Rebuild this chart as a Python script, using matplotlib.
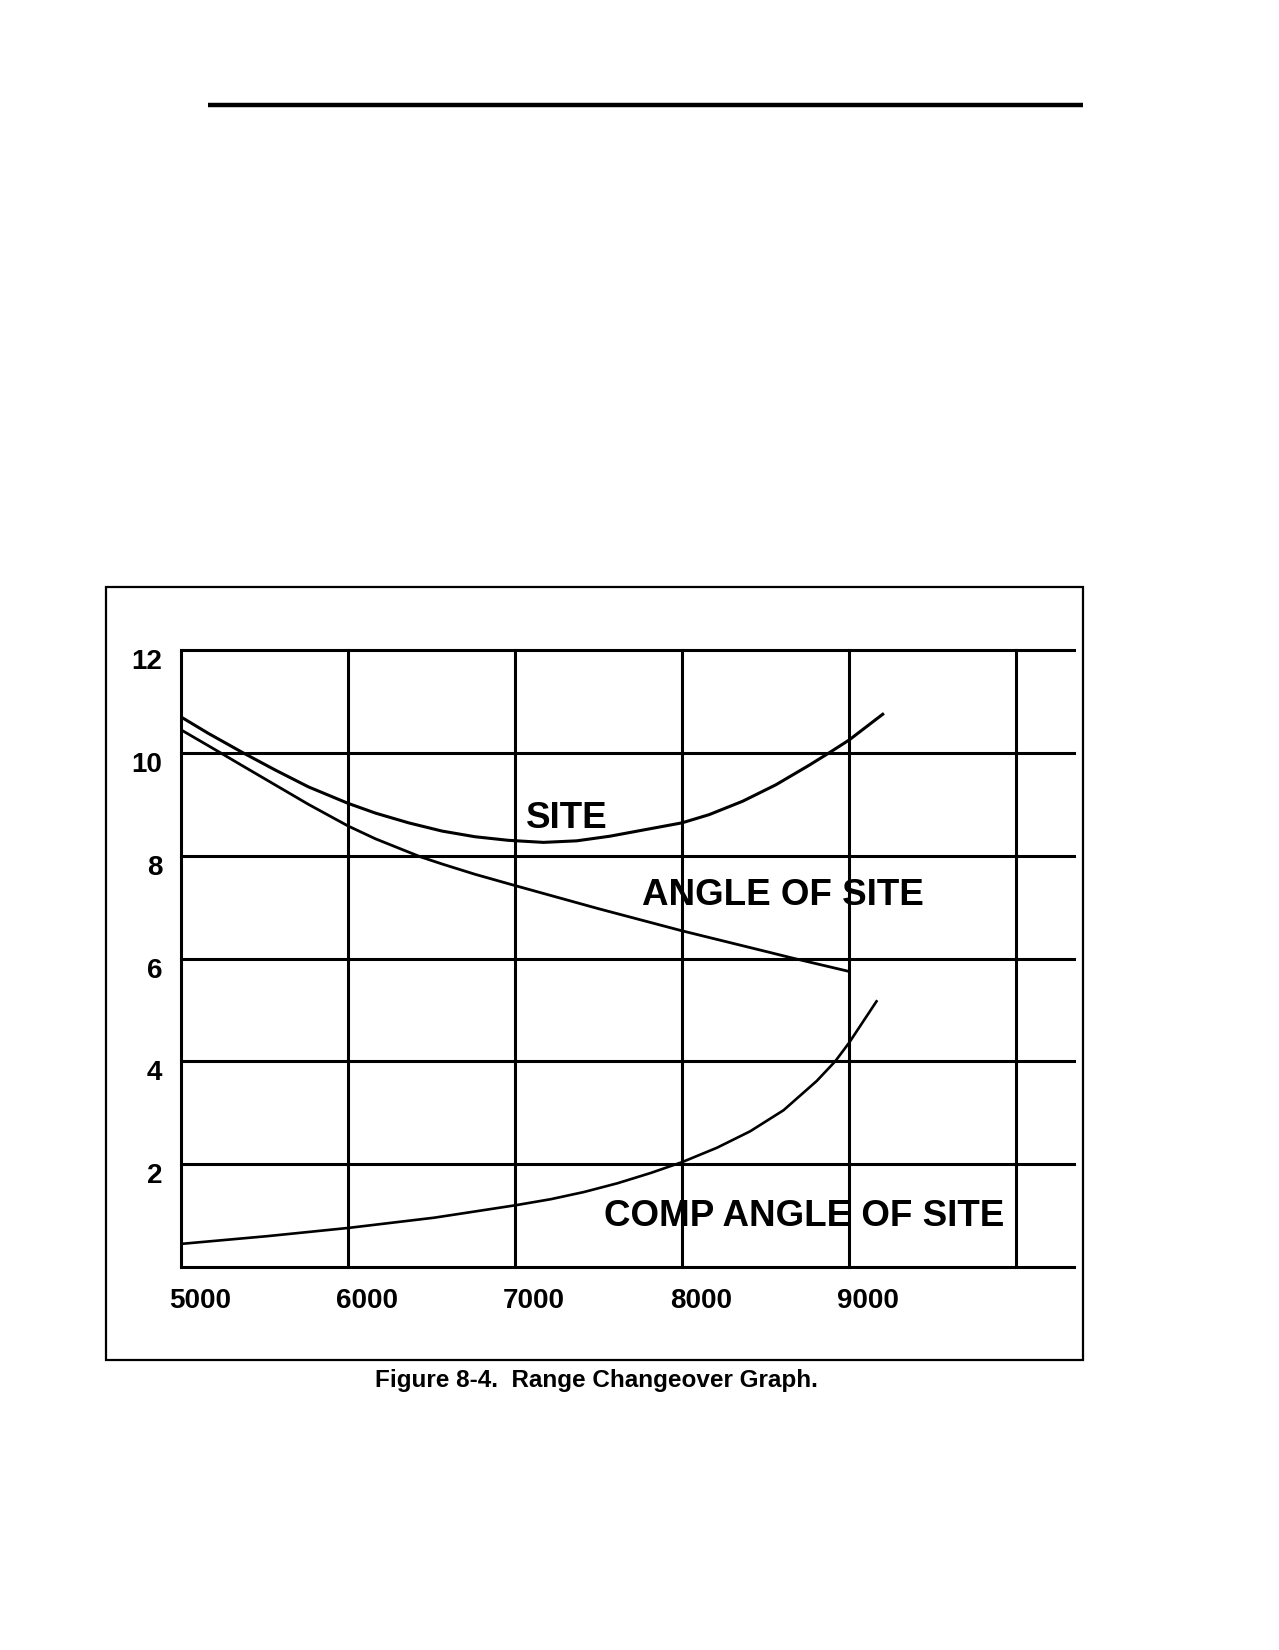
import matplotlib
matplotlib.use("Agg")
import matplotlib.pyplot as plt
from matplotlib.transforms import ScaledTranslation
from matplotlib.patches import Rectangle
from matplotlib.lines import Line2D

plt.rcParams['font.family'] = ['Liberation Sans', 'DejaVu Sans']
plt.rcParams['font.weight'] = 'bold'

# values
site_x = [5000, 5164, 5373, 5563, 5763, 6000, 6164, 6363, 6563, 6760, 6960, 7170, 7369, 7568, 7767,
          8000, 8163, 8363, 8562, 8761, 8880, 9000, 9209]
site_y = [10.70, 10.38, 10.0, 9.67, 9.34, 9.02, 8.83, 8.64, 8.48, 8.37, 8.30, 8.26, 8.29, 8.38, 8.50,
          8.64, 8.80, 9.06, 9.38, 9.76, 10.0, 10.25, 10.77]

aos_x = [5000, 5164, 5243, 5363, 5563, 5763, 6000, 6164, 6433, 6563, 6760, 7000, 7500, 8000, 8500, 8661, 9000]
aos_y = [10.45, 10.14, 9.99, 9.76, 9.38, 9.0, 8.58, 8.33, 7.98, 7.84, 7.64, 7.42, 6.97, 6.54, 6.14, 6.01, 5.75]

comp_x = [5000, 5515, 6000, 6517, 7000, 7215, 7414, 7614, 7813, 8000, 8209, 8408, 8608, 8807, 8917, 9000, 9169]
comp_y = [0.45, 0.60, 0.76, 0.96, 1.2, 1.32, 1.46, 1.63, 1.83, 2.04, 2.32, 2.64, 3.05, 3.62, 4.0, 4.36, 5.19]

x_ticks = [5000, 6000, 7000, 8000, 9000, 10000]
x_labels = ['5000', '6000', '7000', '8000', '9000', '']
y_ticks = [0, 2, 4, 6, 8, 10, 12]
y_labels = ['', '2', '4', '6', '8', '10', '12']

fig = plt.figure(figsize=(12.79, 16.5), dpi=100)
ax = fig.add_axes([0.1415, 0.2321, 0.6982, 0.3739])

ax.plot(site_x, site_y, color='black', lw=2.2, solid_joinstyle='round', solid_capstyle='butt')
ax.plot(aos_x, aos_y, color='black', lw=2.0, solid_joinstyle='round', solid_capstyle='butt')
ax.plot(comp_x, comp_y, color='black', lw=1.9, solid_joinstyle='round', solid_capstyle='butt')

ax.text(7068, 8.72, 'SITE', fontsize=26.5, fontweight='bold', va='center', ha='left')
ax.text(7762, 7.23, 'ANGLE OF SITE', fontsize=26.5, fontweight='bold', va='center', ha='left')
ax.text(7530, 0.99, 'COMP ANGLE OF SITE', fontsize=26.5, fontweight='bold', va='center', ha='left')

ax.set_xlim(5000, 10347)
ax.set_ylim(0, 12)
ax.set_xticks(x_ticks)
ax.set_xticklabels(x_labels)
ax.set_yticks(y_ticks)
ax.set_yticklabels(y_labels)
ax.tick_params(length=0, labelsize=20)
ax.tick_params(axis='x', pad=15)
ax.tick_params(axis='y', pad=13.5)
ax.grid(True, color='black', lw=2.2)
for gl in ax.get_xgridlines() + ax.get_ygridlines():
    gl.set_clip_on(False)
for s in ax.spines.values():
    s.set_visible(False)

# labels sit a little off the grid lines in the original
dx = ScaledTranslation(19 / 100, 0, fig.dpi_scale_trans)
for lab in ax.get_xticklabels():
    lab.set_transform(lab.get_transform() + dx)
    lab.set_fontweight('bold')
dy = ScaledTranslation(0, -9 / 100, fig.dpi_scale_trans)
for lab in ax.get_yticklabels():
    lab.set_transform(lab.get_transform() + dy)
    lab.set_fontweight('bold')

# frame around the figure and page rule
fig.patches.append(Rectangle((0.0829, 0.1758), 0.7639, 0.4684, transform=fig.transFigure,
                             fill=False, edgecolor='black', lw=1.6))
fig.lines.append(Line2D([208 / 1279, 1083 / 1279], [1 - 105 / 1650] * 2, transform=fig.transFigure,
                        color='black', lw=3.2, solid_capstyle='butt'))

fig.text(596 / 1279, 1 - 1380 / 1650, 'Figure 8-4.  Range Changeover Graph.', fontsize=17.5,
         fontweight='bold', ha='center', va='center')

fig.savefig('out.png', dpi=100, facecolor='white')
